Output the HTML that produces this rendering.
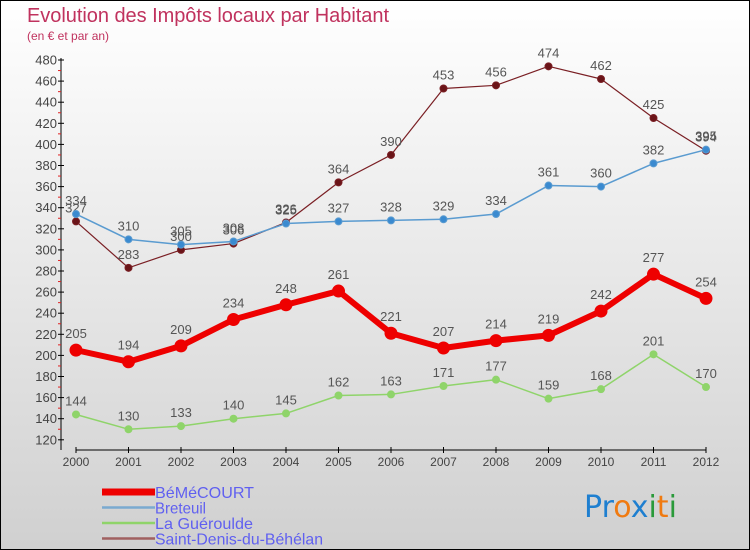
<!DOCTYPE html>
<html><head><meta charset="utf-8"><style>
body{margin:0}
#c{width:750px;height:550px;position:relative;box-sizing:border-box;border:1px solid #000;background:linear-gradient(#fff,#d0d0d0);font-family:"Liberation Sans",sans-serif;overflow:hidden}
</style></head><body>
<div id="c">
<svg id="s" width="750" height="550" style="position:absolute;left:-1px;top:-1px">
<text x="27" y="22" font-size="20" fill="#c0325e" textLength="362">Evolution des Impôts locaux par Habitant</text>
<text x="27" y="40" font-size="12" fill="#c0325e">(en € et par an)</text>
<text x="584" y="517" font-size="30" font-family="'DejaVu Sans',sans-serif"><tspan fill="#1e7fd0">Pr</tspan><tspan fill="#f07a10">o</tspan><tspan fill="#1e7fd0">x</tspan><tspan fill="#2a9a3a">i</tspan><tspan fill="#f07a10">t</tspan><tspan fill="#2a9a3a">i</tspan></text>
</svg>
</div>
<script>
const years=[2000,2001,2002,2003,2004,2005,2006,2007,2008,2009,2010,2011,2012];
const yTicks=[120,140,160,180,200,220,240,260,280,300,320,340,360,380,400,420,440,460,480];
const bemecourt=[205,194,209,234,248,261,221,207,214,219,242,277,254];
const breteuil=[334,310,305,308,325,327,328,329,334,361,360,382,395];
const gueroulde=[144,130,133,140,145,162,163,171,177,159,168,201,170];
const saintDenis=[327,283,300,306,326,364,390,453,456,474,462,425,394];
const seriesNames=["BéMéCOURT","Breteuil","La Guéroulde","Saint-Denis-du-Béhélan"];
const svg=document.getElementById('s');const NS="http://www.w3.org/2000/svg";
function X(i){return 76+i*52.5;}
function Y(v){return 60+(480-v)*1.055;}
function mk(t,a,p){const e=document.createElementNS(NS,t);for(const k in a)e.setAttribute(k,a[k]);(p||svg).appendChild(e);return e;}
let ax=mk('line',{x1:61,y1:58,x2:61,y2:450,stroke:'#000','stroke-width':1});


let bx=mk('line',{x1:76,y1:450,x2:706,y2:450,stroke:'#000','stroke-width':1});


yTicks.forEach(v=>{
 mk('line',{x1:58,y1:Y(v),x2:64,y2:Y(v),stroke:'#000'});
 if(v<480)mk('line',{x1:58,y1:Y(v+10),x2:61,y2:Y(v+10),stroke:'#e02020'});
 const t=mk('text',{x:57,y:Y(v)+4.5,'font-size':13,fill:'#444','text-anchor':'end'});t.textContent=v;
 
 
});
years.forEach((y,i)=>{
 mk('line',{x1:X(i),y1:447,x2:X(i),y2:453,stroke:'#000'});
 const t=mk('text',{x:X(i),y:466,'font-size':12,fill:'#444','text-anchor':'middle'});t.textContent=y;
 
 
});
function series(d,col,w,r,fill,name,lbl){
 const g=mk('g',{});
 
 
 mk('polyline',{points:d.map((v,i)=>X(i)+','+Y(v)).join(' '),fill:'none',stroke:col,'stroke-width':w,'stroke-linejoin':'round'},g);
 d.forEach((v,i)=>{
  const c=mk('circle',{cx:X(i),cy:Y(v),r:r,fill:fill,stroke:col,'stroke-width':1},g);
  
  
  const t=mk('text',{x:X(i),y:Y(v)-lbl,'font-size':13,fill:'#555','text-anchor':'middle'},g);t.textContent=v;
  
  
 });
}
series(gueroulde,'#8fd46a',1.5,3.5,'#8fd46a','la-gueroulde-series',9);
series(saintDenis,'#7a1f24',1.2,3.5,'#6a1418','saint-denis-series',9);
series(breteuil,'#5a9bd0',1.5,3.5,'#3a8ad0','breteuil-series',9);
series(bemecourt,'#ee0000',6,6,'#ee0000','bemecourt-series',12);
const lc=['#ee0000','#7aaad0','#8fd46a','#a06060'],lw=[7,2.5,2.5,2.5],tl=[99,51,98,168];
seriesNames.forEach((n,i)=>{
 const y=492+i*15.5;
 const l=mk('line',{x1:102,y1:y,x2:155,y2:y,stroke:lc[i],'stroke-width':lw[i]});
 
 
 const t=mk('text',{x:155,y:y+6,'font-size':16,fill:'#6060f0',textLength:tl[i],lengthAdjust:'spacingAndGlyphs'});t.textContent=n;
 
 
});
</script>
</body></html>
